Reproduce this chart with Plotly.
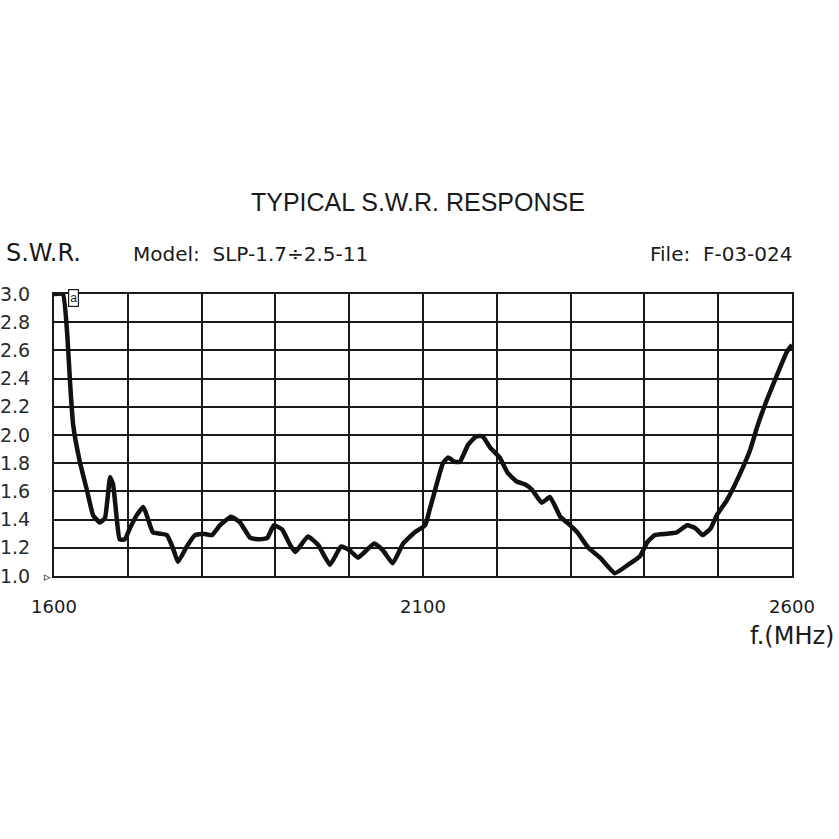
import plotly.graph_objects as go

freq_mhz = [1600, 1612, 1618, 1622, 1626, 1635, 1645, 1653, 1662, 1669, 1676, 1680, 1685, 1689,
            1696, 1703, 1712, 1721, 1727, 1734, 1744, 1753, 1761, 1768, 1780, 1791, 1802, 1814,
            1825, 1840, 1852, 1866, 1879, 1889, 1898, 1909, 1920, 1927, 1944, 1958, 1974, 1989,
            2001, 2012, 2034, 2046, 2059, 2073, 2089, 2103, 2109, 2119, 2127, 2134, 2143, 2150,
            2161, 2172, 2181, 2191, 2204, 2215, 2227, 2238, 2248, 2261, 2272, 2286, 2295, 2309,
            2324, 2340, 2360, 2378, 2394, 2404, 2414, 2431, 2444, 2458, 2469, 2479, 2490, 2498,
            2512, 2530, 2543, 2553, 2566, 2580, 2593, 2600]
swr = [3.00, 3.00, 2.71, 2.35, 2.07, 1.81, 1.60, 1.43, 1.38, 1.41, 1.70, 1.65, 1.41, 1.26,
       1.26, 1.34, 1.43, 1.49, 1.41, 1.31, 1.30, 1.29, 1.20, 1.10, 1.21, 1.29, 1.30, 1.29,
       1.36, 1.42, 1.38, 1.27, 1.26, 1.27, 1.36, 1.33, 1.22, 1.17, 1.28, 1.22, 1.08, 1.21,
       1.18, 1.13, 1.23, 1.18, 1.09, 1.23, 1.31, 1.36, 1.47, 1.66, 1.80, 1.84, 1.81, 1.81,
       1.93, 1.99, 1.99, 1.91, 1.84, 1.73, 1.67, 1.65, 1.61, 1.52, 1.56, 1.42, 1.38, 1.31,
       1.20, 1.13, 1.02, 1.08, 1.14, 1.24, 1.29, 1.30, 1.31, 1.36, 1.34, 1.29, 1.34, 1.43,
       1.54, 1.73, 1.89, 2.06, 2.25, 2.43, 2.59, 2.64]

x_grid = list(range(1600, 2601, 100))
x_labels = ["1600" if v == 1600 else "2100" if v == 2100 else "2600" if v == 2600 else "" for v in x_grid]
y_grid = [1.0, 1.2, 1.4, 1.6, 1.8, 2.0, 2.2, 2.4, 2.6, 2.8, 3.0]
y_labels = ["%.1f" % v for v in y_grid]

title_text = "TYPICAL S.W.R. RESPONSE"
y_title = "S.W.R."
model_text = "Model:  SLP-1.7÷2.5-11"
file_text = "File:  F-03-024"
x_title = "f.(MHz)"

FONT = "Liberation Sans, Arial, sans-serif"
WIDE = "DejaVu Sans, Verdana, sans-serif"
INK = "#1a1a1a"

fig = go.Figure()
fig.add_trace(go.Scatter(x=freq_mhz, y=swr, mode="lines",
                         line=dict(color="#111111", width=4.5, shape="spline", smoothing=0.4),
                         hoverinfo="skip", showlegend=False))

fig.update_layout(
    width=839, height=839,
    margin=dict(l=54, r=47, t=294, b=263),
    paper_bgcolor="white", plot_bgcolor="white",
    showlegend=False,
    xaxis=dict(range=[1600, 2600], tickvals=x_grid, ticktext=x_labels,
               showgrid=True, gridcolor="#1a1a1a", gridwidth=2.2,
               showline=True, linecolor="#1a1a1a", linewidth=2.2, mirror=True,
               ticks="", zeroline=False, ticklabelstandoff=13, automargin=False,
               tickfont=dict(family=WIDE, size=18, color=INK)),
    yaxis=dict(range=[1.0, 3.0], tickvals=y_grid, ticktext=y_labels,
               showgrid=True, gridcolor="#1a1a1a", gridwidth=2.2,
               showline=True, linecolor="#1a1a1a", linewidth=2.2, mirror=True,
               ticks="", zeroline=False, ticklabelstandoff=18, automargin=False,
               tickfont=dict(family=WIDE, size=19, color="#2a2a2a")),
)

ann = [
    dict(text=title_text, x=418, y=202, size=25, xanchor="center", font=FONT),
    dict(text=y_title, x=4, y=253, size=24, xanchor="left", font=WIDE),
    dict(text=model_text, x=131, y=254, size=20, xanchor="left", font=WIDE),
    dict(text=file_text, x=794, y=254, size=20, xanchor="right", font=WIDE),
    dict(text=x_title, x=836, y=636, size=24, xanchor="right", font=WIDE),
]
for a in ann:
    fig.add_annotation(text=a["text"], xref="paper", yref="paper",
                       x=(a["x"] - 54) / 738, y=(576 - a["y"]) / 282,
                       xanchor=a["xanchor"], yanchor="middle", showarrow=False,
                       font=dict(family=a["font"], size=a["size"], color=INK))

# small marker at 1.0 on the left axis
fig.add_annotation(text="▹", xref="paper", yref="paper", x=-0.002, y=0.0,
                   xanchor="right", yanchor="middle", showarrow=False,
                   font=dict(family=FONT, size=13, color=INK))
# small boxed curve label
fig.add_annotation(text="a", xref="x", yref="y", x=1632, y=2.94,
                   ax=-10, ay=-4, showarrow=True, arrowhead=0, arrowwidth=1.5,
                   arrowcolor=INK, xanchor="left",
                   bordercolor=INK, borderwidth=1.2, borderpad=1,
                   font=dict(family=FONT, size=12, color=INK), bgcolor="white")

# remove the default page margin so the figure fills the window exactly
fig.write_html("out.html", config={"displayModeBar": False},
               post_script="document.body.style.margin='0';document.body.style.overflow='hidden';")
